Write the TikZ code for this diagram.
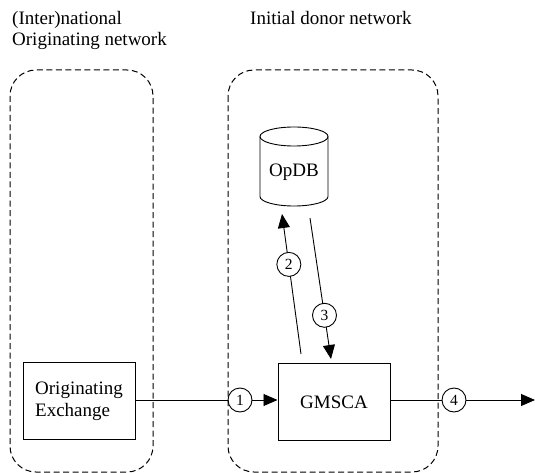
\documentclass[tikz,border=0pt]{standalone}
\usepackage{fontspec}
\setmainfont{Liberation Serif}
\usetikzlibrary{arrows.meta,calc}
\begin{document}
\begin{tikzpicture}[x=1pt,y=-1pt,
  netbox/.style={draw,dash pattern=on 6pt off 3.5pt,rounded corners=26pt,line width=1pt},
  unit/.style={draw,line width=1pt,minimum width=112pt,minimum height=77pt,font=\fontsize{19}{22}\selectfont,align=left},
  numc/.style={draw,circle,line width=0.9pt,minimum size=24pt,inner sep=0pt,font=\fontsize{15.5}{15.5}\selectfont,fill=white},
  flow/.style={line width=0.9pt,-{Triangle[length=14pt,width=12pt]}},
  lbl/.style={font=\fontsize{19}{21.5}\selectfont,align=left,anchor=north west,inner sep=0pt}]
\useasboundingbox (0,0) rectangle (535,473);
\node[lbl] (tl) at (12,11) {(Inter)national\\Originating network};
\node[lbl] (tr) at (250,11) {Initial donor network};
% elements
\node[unit] (oe) at (79,401) {Originating\\Exchange};
\node[unit,align=center] (gm) at (334,402) {GMSCA};
% OpDB database drum (y axis points down, so the lower front arc runs 180 -> 0)
\draw[line width=0.9pt] (260,136.5) -- (260,196.5) arc[start angle=180,end angle=0,x radius=34,y radius=9.5] -- (328,136.5);
\draw[line width=0.9pt] (294,136.5) ellipse[x radius=34,y radius=9.5];
\node[font=\fontsize{19}{22}\selectfont,inner sep=0pt,minimum width=68pt,minimum height=70pt] (db) at (294,172) {OpDB};
% messages
\node[numc] (c1) at (240,400) {1};
\node[numc] (c4) at (454,400) {4};
\coordinate (out) at (535,400);
\draw[line width=0.9pt] (oe.east |- c1) -- (c1);
\draw[flow] (c1) -- (gm.west |- c1);
\draw[line width=0.9pt] (gm.east |- c4) -- (c4);
\draw[flow] (c4) -- (out);
\coordinate (s2) at (301,354);
\coordinate (e2) at (282,214);
\coordinate (s3) at (310,218);
\coordinate (e3) at (331,359);
\draw[flow] (s2) -- (e2);
\draw[flow] (s3) -- (e3);
\node[numc] (c2) at ($(s2)!0.64!(e2)$) {2};
\node[numc] (c3) at ($(s3)!0.69!(e3)$) {3};
% network areas, drawn last so their borders show across the message marks
\draw[netbox] (10,70) rectangle (153,472);
\draw[netbox] (228,70) rectangle (438,472);
\end{tikzpicture}
\end{document}
